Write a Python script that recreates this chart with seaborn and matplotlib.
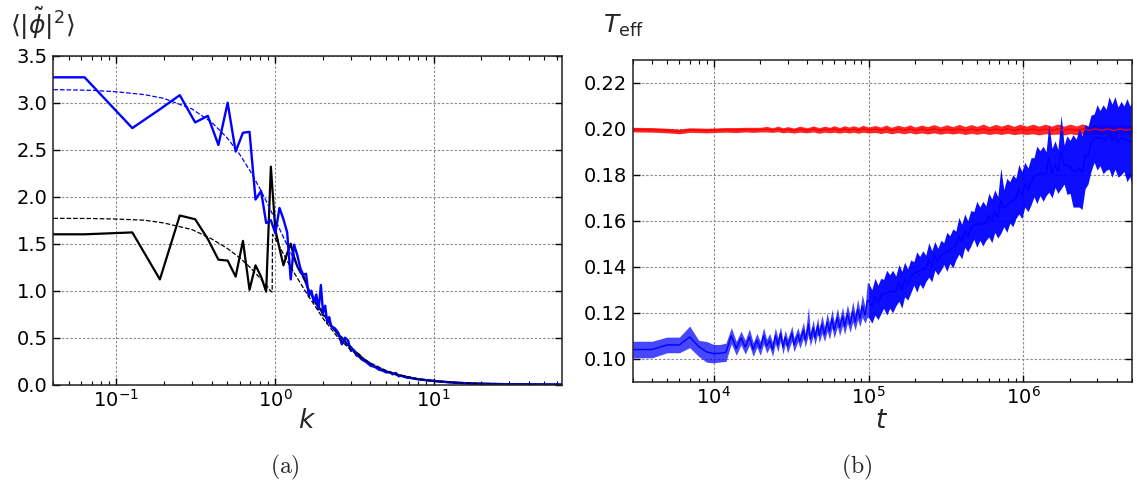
import numpy as np
import pandas as pd
import matplotlib
matplotlib.use("Agg")
import matplotlib.pyplot as plt
import seaborn as sns

# ---------------- data: panel (a) ----------------
k_data = [0.0, 0.063, 0.126, 0.188, 0.251, 0.314, 0.377, 0.440, 0.503, 0.565,
          0.628, 0.691, 0.754, 0.817, 0.880, 0.942, 1.005, 1.068, 1.131, 1.194,
          1.257, 1.319, 1.382, 1.445, 1.508, 1.571, 1.634, 1.696, 1.759, 1.822,
          1.885, 1.948, 2.011, 2.073, 2.136, 2.199, 2.262, 2.388, 2.513, 2.639,
          2.765, 2.890, 3.016, 3.142, 3.267, 3.393, 3.519, 3.770, 4.021, 4.273,
          4.524, 4.775, 5.027, 5.278, 5.529, 5.781, 6.032, 6.283, 6.786, 7.288,
          7.791, 8.294, 8.796, 9.425, 10.05, 11.31, 12.57, 13.82, 15.08, 17.59,
          20.11, 25.13, 30.16, 37.70, 50.27, 64.0]
phi_blue = [3.27, 3.27, 2.73, 2.93, 3.08, 2.79, 2.86, 2.55, 3.00, 2.48,
            2.68, 2.69, 1.97, 2.06, 1.72, 1.75, 1.61, 1.88, 1.76, 1.62,
            1.12, 1.49, 1.38, 1.24, 1.17, 1.18, 0.94, 1.00, 0.88, 0.96,
            0.80, 1.06, 0.76, 0.84, 0.66, 0.72, 0.62, 0.60, 0.55, 0.43,
            0.50, 0.47, 0.36, 0.37, 0.31, 0.30, 0.27, 0.24, 0.20, 0.19,
            0.16, 0.15, 0.13, 0.135, 0.11, 0.125, 0.09, 0.095, 0.075, 0.07,
            0.06, 0.055, 0.05, 0.045, 0.04, 0.032, 0.026, 0.021, 0.018, 0.013,
            0.010, 0.007, 0.005, 0.003, 0.002, 0.001]
phi_black = [1.60, 1.60, 1.62, 1.12, 1.80, 1.76, 1.55, 1.33, 1.32, 1.15,
             1.53, 1.01, 1.27, 1.15, 0.99, 2.32, 1.65, 1.45, 1.27, 1.40,
             1.50, 1.36, 1.26, 1.20, 1.16, 1.08, 1.00, 0.97, 0.90, 0.86,
             0.82, 0.80, 0.74, 0.73, 0.70, 0.66, 0.63, 0.58, 0.53, 0.50,
             0.46, 0.42, 0.40, 0.36, 0.34, 0.32, 0.29, 0.25, 0.22, 0.19,
             0.17, 0.155, 0.14, 0.13, 0.12, 0.11, 0.10, 0.095, 0.08, 0.07,
             0.062, 0.055, 0.05, 0.044, 0.04, 0.032, 0.026, 0.022, 0.018, 0.013,
             0.010, 0.007, 0.005, 0.003, 0.002, 0.001]

k_fit_blue = [0.04, 0.07, 0.1, 0.15, 0.2, 0.3, 0.4, 0.5, 0.6, 0.7,
              0.8, 0.9, 1.0, 1.1, 1.2, 1.4, 1.6, 1.8, 2.0, 2.5,
              3.0, 3.5, 4.0, 5.0, 6.0, 8.0, 10.0, 15.0, 20.0, 30.0,
              45.0, 64.0]
fit_blue = [3.139, 3.132, 3.116, 3.086, 3.045, 2.933, 2.790, 2.625, 2.449, 2.269,
            2.092, 1.921, 1.761, 1.612, 1.476, 1.239, 1.045, 0.888, 0.760, 0.533,
            0.390, 0.296, 0.232, 0.153, 0.108, 0.061, 0.040, 0.018, 0.010, 0.0045,
            0.002, 0.001]
k_fit_black = [0.04, 0.07, 0.1, 0.15, 0.2, 0.3, 0.4, 0.5, 0.6, 0.7,
               0.8, 0.85, 0.9, 0.93, 0.96, 0.965, 1.0, 1.1, 1.2, 1.4,
               1.6, 1.8, 2.0, 2.5, 3.0, 3.5, 4.0, 5.0, 6.0, 8.0,
               10.0, 15.0, 20.0, 30.0, 45.0, 64.0]
fit_black = [1.770, 1.768, 1.762, 1.750, 1.720, 1.650, 1.550, 1.450, 1.350, 1.245,
             1.140, 1.090, 1.040, 1.005, 0.985, 1.600, 1.560, 1.430, 1.310, 1.120,
             0.960, 0.830, 0.710, 0.500, 0.370, 0.285, 0.225, 0.148, 0.105, 0.060,
             0.039, 0.0175, 0.0099, 0.0045, 0.002, 0.001]

# ---------------- data: panel (b) ----------------
# times in thousands of steps
t_blue_k = [3, 4, 5, 6, 7, 8, 9, 10, 11, 12,
            13, 14, 15, 16, 17, 18, 19, 20, 21, 22,
            23, 24, 25, 26, 27, 28, 29, 30, 32, 33,
            35, 36, 38, 39, 41, 42, 44, 45, 47, 48,
            50, 52, 54, 56, 58, 60, 63, 65, 68, 70,
            73, 76, 79, 82, 85, 88, 91, 95, 98,
            100, 105, 110, 115, 120, 125, 131, 137, 143, 150,
            157, 164, 171, 179, 187, 196, 205, 214, 224, 234,
            245, 256, 268, 280, 293, 306, 320, 335, 350, 366,
            383, 400, 418, 437, 457, 478, 500, 523, 547, 572,
            598, 625, 653, 683, 714, 747, 781, 817, 854, 893,
            934, 977, 1020, 1070, 1120, 1170, 1220, 1280, 1340, 1400,
            1460, 1530, 1600, 1670, 1750, 1830, 1910, 2000, 2090, 2190,
            2290, 2390, 2500, 2610, 2730, 2860, 2990, 3120, 3270, 3420,
            3570, 3730, 3900, 4080, 4270, 4460, 4660, 4870, 5000]
T_blue = [.1040, .1040, .1060, .1060, .1095, .1053, .1030, .1022, .1024, .1028,
          .1100, .1045, .1090, .1050, .1095, .1040, .1080, .1045, .1100, .1055,
          .1080, .1040, .1100, .1060, .1110, .1050, .1095, .1055, .1110, .1060,
          .1105, .1075, .1125, .1080, .1150, .1085, .1135, .1090, .1145, .1100,
          .1150, .1105, .1160, .1120, .1175, .1125, .1180, .1135, .1185, .1140,
          .1195, .1150, .1205, .1160, .1215, .1175, .1230, .1190, .1250,
          .1255, .1228, .1270, .1245, .1272, .1282, .1288, .1292, .1292, .1295,
          .1330, .1300, .1345, .1322, .1358, .1371, .1378, .1385, .1388, .1392,
          .1430, .1402, .1448, .1422, .1450, .1458, .1465, .1475, .1480, .1492,
          .1535, .1510, .1558, .1532, .1568, .1580, .1585, .1588, .1588, .1590,
          .1625, .1600, .1642, .1615, .1688, .1655, .1668, .1680, .1688, .1698,
          .1738, .1712, .1758, .1735, .1772, .1790, .1800, .1808, .1805, .1805,
          .1872, .1808, .1846, .1815, .1900, .1845, .1842, .1835, .1818, .1808,
          .1832, .1810, .1880, .1885, .1938, .1960, .1963, .1960, .1955, .1952,
          .1982, .1949, .1982, .1942, .1960, .1958, .1951, .1946, .1938]
T_blue_lo = [.1004, .1004, .1026, .1026, .1048, .1010, .0985, .0982, .0986, .0988,
             .1065, .1015, .1060, .1020, .1060, .1010, .1050, .1015, .1065, .1025,
             .1050, .1010, .1065, .1030, .1080, .1020, .1065, .1025, .1078, .1030,
             .1075, .1045, .1090, .1050, .1110, .1055, .1100, .1060, .1110, .1070,
             .1110, .1075, .1120, .1085, .1135, .1090, .1140, .1100, .1145, .1105,
             .1155, .1115, .1160, .1125, .1170, .1140, .1180, .1155, .1180,
             .1180, .1155, .1190, .1170, .1195, .1220, .1190, .1220, .1200, .1230,
             .1250, .1220, .1270, .1255, .1285, .1320, .1290, .1325, .1305, .1335,
             .1355, .1335, .1385, .1365, .1385, .1410, .1380, .1415, .1395, .1430,
             .1455, .1435, .1485, .1465, .1490, .1520, .1485, .1515, .1490, .1515,
             .1530, .1505, .1550, .1525, .1545, .1575, .1550, .1590, .1575, .1610,
             .1630, .1610, .1660, .1640, .1670, .1705, .1675, .1710, .1685, .1710,
             .1725, .1700, .1745, .1720, .1740, .1760, .1715, .1720, .1660, .1660,
             .1660, .1650, .1740, .1760, .1815, .1855, .1821, .1840, .1805, .1820,
             .1825, .1790, .1825, .1790, .1800, .1815, .1770, .1792, .1760]
T_blue_hi = [.1076, .1076, .1094, .1094, .1142, .1080, .1075, .1062, .1062, .1068,
             .1135, .1075, .1120, .1080, .1130, .1070, .1110, .1075, .1135, .1085,
             .1110, .1070, .1135, .1090, .1140, .1080, .1125, .1085, .1142, .1090,
             .1135, .1105, .1160, .1110, .1226, .1115, .1170, .1120, .1180, .1130,
             .1190, .1135, .1200, .1155, .1215, .1160, .1220, .1170, .1225, .1175,
             .1235, .1185, .1250, .1195, .1260, .1210, .1280, .1225, .1330,
             .1330, .1300, .1350, .1320, .1350, .1345, .1385, .1365, .1385, .1360,
             .1410, .1380, .1420, .1390, .1430, .1422, .1465, .1445, .1470, .1450,
             .1505, .1470, .1510, .1480, .1515, .1505, .1550, .1535, .1565, .1555,
             .1615, .1585, .1630, .1600, .1645, .1640, .1685, .1660, .1685, .1665,
             .1720, .1695, .1735, .1705, .1830, .1735, .1785, .1770, .1800, .1785,
             .1845, .1815, .1855, .1830, .1875, .1875, .1925, .1905, .1925, .1900,
             .2020, .1915, .1948, .1910, .2060, .1930, .1970, .1950, .1975, .1955,
             .2004, .1970, .2020, .2010, .2060, .2065, .2105, .2080, .2105, .2085,
             .2140, .2108, .2140, .2095, .2120, .2100, .2132, .2100, .2115]

t_red_k = [3, 4, 5, 6, 7, 8, 9, 10, 12, 14,
           16, 18, 20, 22, 24, 26, 28, 30, 33, 36,
           40, 44, 48, 52, 56, 60, 65, 70, 75, 80,
           86, 92, 100, 110, 120, 130, 140, 155, 170, 185,
           200, 220, 240, 265, 290, 320, 350, 385, 420, 460,
           500, 550, 600, 660, 720, 790, 870, 950, 1050, 1150,
           1260, 1380, 1520, 1670, 1830, 2000, 2200, 2400, 2650, 2900,
           3200, 3500, 3850, 4200, 4600, 5000]
T_red = [.1997, .1996, .1993, .1989, .1995, .1994, .1993, .1994, .1996, .1995,
         .1997, .1996, .1997, .1999, .1995, .2000, .1994, .1998, .1993, .1999,
         .1994, .2000, .1993, .1999, .1995, .2000, .1994, .2000, .1995, .2000,
         .1994, .2001, .1995, .2000, .1994, .2001, .1993, .2000, .1994, .2001,
         .1993, .2000, .1994, .2001, .1993, .2000, .1994, .2001, .1993, .2000,
         .1994, .2001, .1993, .2000, .1994, .2001, .1993, .2000, .1994, .2000,
         .1993, .2000, .1994, .2000, .1993, .2000, .1994, .2000, .1993, .2000,
         .1994, .2000, .1993, .2000, .1994, .1999]
T_red_err = [.0010, .0010, .0010, .0010, .0010, .0010, .0010, .0010, .0010, .0011,
             .0010, .0011, .0010, .0012, .0010, .0012, .0011, .0012, .0011, .0013,
             .0011, .0013, .0012, .0013, .0012, .0014, .0012, .0014, .0013, .0014,
             .0013, .0015, .0013, .0015, .0014, .0016, .0014, .0016, .0015, .0017,
             .0015, .0017, .0016, .0018, .0016, .0018, .0016, .0019, .0017, .0019,
             .0017, .0020, .0017, .0020, .0018, .0020, .0018, .0021, .0018, .0021,
             .0019, .0021, .0018, .0022, .0019, .0021, .0019, .0022, .0019, .0021,
             .0019, .0022, .0019, .0021, .0019, .0021]

# ---------------- figure ----------------
sns.set_style("ticks")
plt.rcParams["font.family"] = ["DejaVu Sans"]
plt.rcParams["mathtext.fontset"] = "dejavusans"

W, H = 1137, 486
fig = plt.figure(figsize=(W / 100, H / 100), dpi=100)
ax1 = fig.add_axes([53.3 / W, 101.3 / H, 508.4 / W, 329.0 / H])
ax2 = fig.add_axes([632.7 / W, 104.3 / H, 499.0 / W, 321.7 / H])

GRID = dict(color="#8c8c8c", linestyle=(0, (2.2, 1.6)), linewidth=0.8)

# panel (a)
df_a = pd.DataFrame({"k": k_data, "blue": phi_blue, "black": phi_black})
sns.lineplot(data=df_a, x="k", y="black", ax=ax1, color="black", lw=1.6,
             estimator=None, sort=False)
sns.lineplot(data=df_a, x="k", y="blue", ax=ax1, color="blue", lw=1.7,
             estimator=None, sort=False)
sns.lineplot(x=k_fit_blue, y=fit_blue, ax=ax1, color="blue", lw=0.9,
             linestyle="--", estimator=None, sort=False)
sns.lineplot(x=k_fit_black, y=fit_black, ax=ax1, color="black", lw=0.9,
             linestyle="--", estimator=None, sort=False)
ax1.set_xscale("log")
ax1.set_xlim(0.04, 64.3)
ax1.set_ylim(0, 3.5)
ax1.set_yticks(np.arange(0, 3.51, 0.5))
ax1.set_yticklabels([f"{v:.1f}" for v in np.arange(0, 3.51, 0.5)])

# panel (b)
t_blue = np.array(t_blue_k, dtype=float) * 1000
t_red = np.array(t_red_k, dtype=float) * 1000
Tb = np.array(T_blue)
Tb_lo = np.array(T_blue_lo)
Tb_hi = np.array(T_blue_hi)
Tr = np.array(T_red)
Er = np.array(T_red_err)
n_early = 60  # points before the dense late-time regime

ax2.set_xscale("log")
ax2.fill_between(t_red, Tr - Er, Tr + Er, color="red", alpha=0.85, lw=0)
sns.lineplot(x=t_red, y=Tr, ax=ax2, color="red", lw=0.9, estimator=None, sort=False)
ax2.fill_between(t_blue[:n_early], Tb_lo[:n_early], Tb_hi[:n_early],
                 color="blue", alpha=0.72, lw=0)
ax2.fill_between(t_blue[n_early - 1:], Tb_lo[n_early - 1:], Tb_hi[n_early - 1:],
                 color="blue", alpha=0.95, lw=0)
sns.lineplot(x=t_blue, y=Tb, ax=ax2, color="blue", lw=1.0, estimator=None, sort=False)
ax2.set_xlim(3000, 5e6)
ax2.set_ylim(0.09, 0.23)
ax2.set_yticks(np.arange(0.10, 0.221, 0.02))
ax2.set_yticklabels([f"{v:.2f}" for v in np.arange(0.10, 0.221, 0.02)])

for ax in (ax1, ax2):
    ax.set_xlabel("")
    ax.set_ylabel("")
    ax.set_axisbelow(True)
    ax.grid(True, which="major", **GRID)
    ax.tick_params(which="both", direction="in", top=True, right=True,
                   labelsize=14, colors="black")
    ax.tick_params(which="major", length=5, width=1.0, pad=4)
    ax.tick_params(axis="x", which="major", pad=3)
    ax.tick_params(which="minor", length=2.8, width=0.8)
    ax.tick_params(axis="y", which="minor", left=False, right=False)
    for s in ax.spines.values():
        s.set_color("#222222")
        s.set_linewidth(1.1)
    if ax.get_legend() is not None:
        ax.get_legend().remove()

# labels
fig.text(42 / W, 1 - 24 / H, r"$\langle|\tilde{\phi}|^2\rangle$", fontsize=18,
         ha="center", va="center")
fig.text(623 / W, 1 - 26 / H, r"$T_{\mathrm{eff}}$", fontsize=18,
         ha="center", va="center")
fig.text(307 / W, 1 - 421 / H, r"$k$", fontsize=19, ha="center", va="center")
fig.text(882 / W, 1 - 421 / H, r"$t$", fontsize=19, ha="center", va="center")
fig.text(285 / W, 1 - 467 / H, r"$\mathrm{(a)}$", fontsize=17, ha="center",
         va="center", math_fontfamily="cm")
fig.text(857 / W, 1 - 467 / H, r"$\mathrm{(b)}$", fontsize=17, ha="center",
         va="center", math_fontfamily="cm")

fig.savefig("out.png", dpi=100)
